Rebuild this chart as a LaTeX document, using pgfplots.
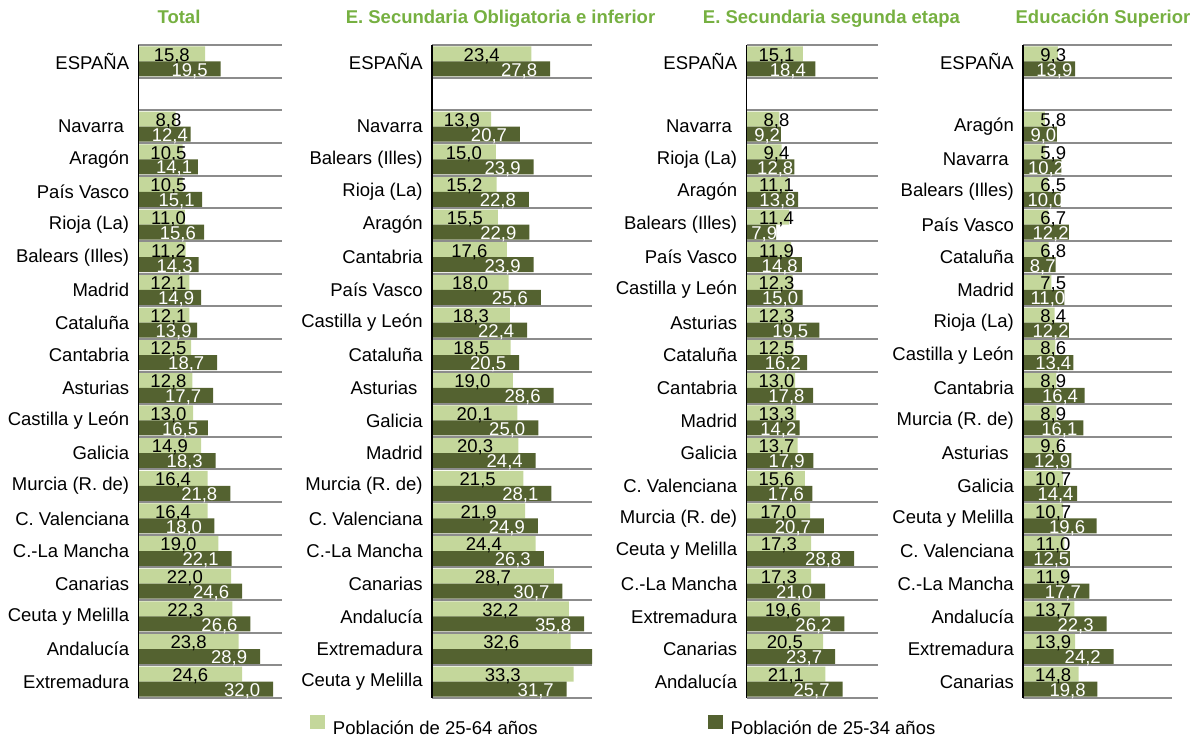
\documentclass[border=0pt]{standalone}
\usepackage{fontspec}
\setmainfont{Liberation Sans}
\usepackage{pgfplots}
\usepackage{pgfplotstable}
\pgfplotsset{compat=1.18}
\definecolor{lightg}{HTML}{C4D79B}
\definecolor{darkg}{HTML}{546230}
\definecolor{titleg}{HTML}{76B041}
\definecolor{gridg}{HTML}{8C8C8C}
\newcommand\lab{\fontsize{9.25pt}{11pt}\selectfont}

\pgfplotstableread[col sep=semicolon]{
y;a;b;la;lb
0;15.8;19.5;15,8;19,5
2;8.8;12.4;8,8;12,4
3;10.5;14.1;10,5;14,1
4;10.5;15.1;10,5;15,1
5;11.0;15.6;11,0;15,6
6;11.2;14.3;11,2;14,3
7;12.1;14.9;12,1;14,9
8;12.1;13.9;12,1;13,9
9;12.5;18.7;12,5;18,7
10;12.8;17.7;12,8;17,7
11;13.0;16.5;13,0;16,5
12;14.9;18.3;14,9;18,3
13;16.4;21.8;16,4;21,8
14;16.4;18.0;16,4;18,0
15;19.0;22.1;19,0;22,1
16;22.0;24.6;22,0;24,6
17;22.3;26.6;22,3;26,6
18;23.8;28.9;23,8;28,9
19;24.6;32.0;24,6;32,0
}\tabA

\pgfplotstableread[col sep=semicolon]{
y;a;b;la;lb
0;23.4;27.8;23,4;27,8
2;13.9;20.7;13,9;20,7
3;15.0;23.9;15,0;23,9
4;15.2;22.8;15,2;22,8
5;15.5;22.9;15,5;22,9
6;17.6;23.9;17,6;23,9
7;18.0;25.6;18,0;25,6
8;18.3;22.4;18,3;22,4
9;18.5;20.5;18,5;20,5
10;19.0;28.6;19,0;28,6
11;20.1;25.0;20,1;25,0
12;20.3;24.4;20,3;24,4
13;21.5;28.1;21,5;28,1
14;21.9;24.9;21,9;24,9
15;24.4;26.3;24,4;26,3
16;28.7;30.7;28,7;30,7
17;32.2;35.8;32,2;35,8
18;32.6;40.0;32,6;~
19;33.3;31.7;33,3;31,7
}\tabB

\pgfplotstableread[col sep=semicolon]{
y;a;b;la;lb
0;15.1;18.4;15,1;18,4
2;8.8;9.2;8,8;9,2
3;9.4;12.8;9,4;12,8
4;11.1;13.8;11,1;13,8
5;11.4;7.9;11,4;7,9
6;11.9;14.8;11,9;14,8
7;12.3;15.0;12,3;15,0
8;12.3;19.5;12,3;19,5
9;12.5;16.2;12,5;16,2
10;13.0;17.8;13,0;17,8
11;13.3;14.2;13,3;14,2
12;13.7;17.9;13,7;17,9
13;15.6;17.6;15,6;17,6
14;17.0;20.7;17,0;20,7
15;17.3;28.8;17,3;28,8
16;17.3;21.0;17,3;21,0
17;19.6;26.2;19,6;26,2
18;20.5;23.7;20,5;23,7
19;21.1;25.7;21,1;25,7
}\tabC

\pgfplotstableread[col sep=semicolon]{
y;a;b;la;lb
0;9.3;13.9;9,3;13,9
2;5.8;9.0;5,8;9,0
3;5.9;10.2;5,9;10,2
4;6.5;10.0;6,5;10,0
5;6.7;12.2;6,7;12,2
6;6.8;8.7;6,8;8,7
7;7.5;11.0;7,5;11,0
8;8.4;12.2;8,4;12,2
9;8.6;13.4;8,6;13,4
10;8.9;16.4;8,9;16,4
11;8.9;16.1;8,9;16,1
12;9.6;12.9;9,6;12,9
13;10.7;14.4;10,7;14,4
14;10.7;19.6;10,7;19,6
15;11.0;12.5;11,0;12,5
16;11.9;17.7;11,9;17,7
17;13.7;22.3;13,7;22,3
18;13.9;24.2;13,9;24,2
19;14.8;19.8;14,8;19,8
}\tabD

\pgfplotsset{
  panel/.style={
    xbar=0pt, bar width=7.5pt,
    y=16.325pt, y dir=reverse, ymin=-0.5, ymax=19.5,
    xmin=0, anchor=north west,
    axis on top,
    axis x line=none, axis y line*=left,
    y axis line style={black, line width=0.8pt},
    xtick=\empty,
    ytick={0,2,3,...,19},
    minor ytick={-0.5,0.5,...,19.5},
    yminorgrids, minor grid style={gridg, line width=1pt},
    major tick length=0pt, minor tick length=0pt,
    yticklabel style={font=\lab, inner sep=0pt, xshift=-4.5pt, anchor=east},
    point meta=explicit symbolic,
    visualization depends on={rawx \as \rawx},
  },
  lightbar/.style={fill=lightg, draw=none, bar shift=3.75pt, nodes near coords,
    every node near coord/.append style={font=\lab, text=black, anchor=center, inner sep=0pt, yshift=-1pt,
      xshift={(max(0.5*\rawx*#1,30)-\rawx*#1)*0.5pt}}},
  darkbar/.style={fill=darkg, draw=none, bar shift=-3.75pt, nodes near coords,
    every node near coord/.append style={font=\lab, text=white, anchor=center, inner sep=0pt, yshift=-1pt,
      xshift={(max(0.6*\rawx*#1,\rawx*#1-31)-\rawx*#1)*0.5pt}}},
}

\begin{document}
\begin{tikzpicture}
\useasboundingbox (0,0) rectangle (599.5pt,-369pt);

\node[font=\lab\bfseries, text=titleg, anchor=base] at (89.5pt,-11.6pt) {Total};
\node[font=\lab\bfseries, text=titleg, anchor=base] at (250.25pt,-11.6pt) {E. Secundaria Obligatoria e inferior};
\node[font=\lab\bfseries, text=titleg, anchor=base] at (415.75pt,-11.6pt) {E. Secundaria segunda etapa};
\node[font=\lab\bfseries, text=titleg, anchor=base] at (551.5pt,-11.6pt) {Educación Superior};

\begin{axis}[panel, at={(69.25pt,-22.5pt)}, x=2.105pt, xmax=34.2,
  yticklabels={ESPAÑA, Navarra\kern2.6pt, Aragón, País Vasco, Rioja (La), Balears (Illes), Madrid, Cataluña, Cantabria, Asturias, Castilla y León, Galicia, Murcia (R. de), C. Valenciana, C.-La Mancha, Canarias, Ceuta y Melilla, Andalucía, Extremadura}]
\addplot[lightbar=4.21] table[x=a,y=y,meta=la]{\tabA};
\addplot[darkbar=4.21] table[x=b,y=y,meta=lb]{\tabA};
\end{axis}

\begin{axis}[panel, at={(216pt,-22.5pt)}, x=2.125pt, xmax=37.65,
  yticklabels={ESPAÑA, Navarra, Balears (Illes), Rioja (La), Aragón, Cantabria, País Vasco, Castilla y León, Cataluña, Asturias\kern2.6pt, Galicia, Madrid, Murcia (R. de), C. Valenciana, C.-La Mancha, Canarias, Andalucía, Extremadura, Ceuta y Melilla},
  legend style={font=\lab, draw=none, fill=none, inner sep=0pt, outer sep=0pt,
    at={(-0.7625,-0.0429)}, anchor=west, legend columns=2,
    nodes={inner sep=0pt},
    /tikz/every even column/.append style={column sep=85pt},
    /tikz/every odd column/.append style={column sep=4pt}},
  legend image code/.code={\fill[#1] (0pt,0pt) rectangle (7.5pt,7pt);}]
\addplot[lightbar=4.25] table[x=a,y=y,meta=la]{\tabB};
\addlegendentry{Población de 25-64 años}
\addplot[darkbar=4.25] table[x=b,y=y,meta=lb]{\tabB};
\addlegendentry{Población de 25-34 años}
\end{axis}

\begin{axis}[panel, at={(373.25pt,-22.5pt)}, x=1.87pt, xmax=35.03,
  yticklabels={ESPAÑA, Navarra\kern2.6pt, Rioja (La), Aragón, Balears (Illes), País Vasco, Castilla y León, Asturias, Cataluña, Cantabria, Madrid, Galicia, C. Valenciana, Murcia (R. de), Ceuta y Melilla, C.-La Mancha, Extremadura, Canarias, Andalucía}]
\addplot[lightbar=3.74] table[x=a,y=y,meta=la]{\tabC};
\addplot[darkbar=3.74] table[x=b,y=y,meta=lb]{\tabC};
\end{axis}

\begin{axis}[panel, at={(511.6pt,-22.5pt)}, x=1.87pt, xmax=39.84,
  yticklabels={ESPAÑA, Aragón, Navarra\kern2.6pt, Balears (Illes), País Vasco, Cataluña, Madrid, Rioja (La), Castilla y León, Cantabria, Murcia (R. de), Asturias\kern2.6pt, Galicia, Ceuta y Melilla, C. Valenciana, C.-La Mancha, Andalucía, Extremadura, Canarias}]
\addplot[lightbar=3.74] table[x=a,y=y,meta=la]{\tabD};
\addplot[darkbar=3.74] table[x=b,y=y,meta=lb]{\tabD};
\end{axis}
\end{tikzpicture}
\end{document}
